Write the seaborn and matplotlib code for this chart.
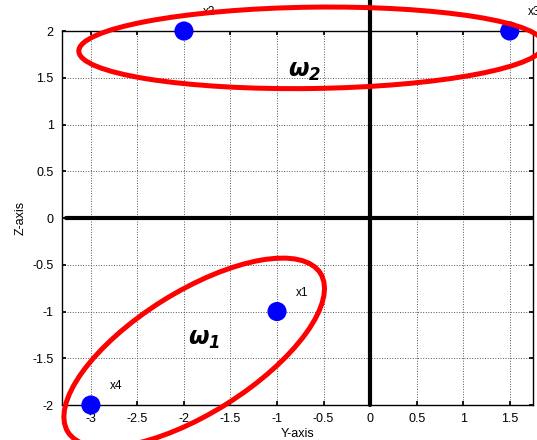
import seaborn as sns
import pandas as pd
import matplotlib.pyplot as plt
from matplotlib.patches import Ellipse

# sample points
point_names = ["x1", "x2", "x3", "x4"]
point_y = [-1, -2, 1.5, -3]
point_z = [-1, 2, 2, -2]

# class ellipses: center y, center z, width, height, angle
ell_labels = [r"$\mathbfit{\omega_1}$", r"$\mathbfit{\omega_2}$"]
ell_cy = [-1.89, -0.63]
ell_cz = [-1.44, 1.82]
ell_w = [3.2, 5.0]
ell_h = [1.3, 0.87]
ell_angle = [32, 0.8]
label_pos_y = [-1.78, -0.70]
label_pos_z = [-1.30, 1.56]

xticks = [-3, -2.5, -2, -1.5, -1, -0.5, 0, 0.5, 1, 1.5]
yticks = [-2, -1.5, -1, -0.5, 0, 0.5, 1, 1.5, 2]


def main():
    sns.set_theme(style="ticks")
    plt.rcParams["font.family"] = ["Liberation Sans", "DejaVu Sans"]
    plt.rcParams["text.color"] = "black"
    plt.rcParams["axes.labelcolor"] = "black"

    df = pd.DataFrame({"name": point_names, "Y": point_y, "Z": point_z})

    fig = plt.figure(figsize=(5.37, 4.4), dpi=100)
    ax = fig.add_axes([0.1155, 0.0795, 0.877, 0.85])

    ax.set_xlim(-3.31, 1.75)
    ax.set_ylim(-2, 2)
    ax.set_xticks(xticks)
    ax.set_yticks(yticks)
    ax.set_xticklabels([f"{t:g}" for t in xticks])
    ax.set_yticklabels([f"{t:g}" for t in yticks])
    ax.grid(True, linestyle=":", color="#555555", linewidth=0.7)
    ax.tick_params(direction="in", length=3, top=True, right=True,
                   labelsize=9, colors="black", pad=6)
    for s in ax.spines.values():
        s.set_linewidth(1.0)
        s.set_color("black")

    # thick axis lines
    ax.plot([0, 0], [-2, 2.4], color="black", lw=3, clip_on=False, zorder=3)
    ax.plot([-3.27, 1.75], [0, 0], color="black", lw=3, zorder=3)

    sns.scatterplot(data=df, x="Y", y="Z", color="#0000ff", s=190,
                    edgecolor="none", ax=ax, zorder=5, clip_on=False)
    for n, y, z in zip(point_names, point_y, point_z):
        ax.text(y + 0.2, z + 0.2, n, fontsize=8.5, va="center", ha="left",
                clip_on=False)

    for i in range(len(ell_labels)):
        e = Ellipse((ell_cy[i], ell_cz[i]), ell_w[i], ell_h[i], angle=ell_angle[i],
                    fill=False, edgecolor="#ff0000", lw=3.6, clip_on=False, zorder=6)
        ax.add_patch(e)
        ax.text(label_pos_y[i], label_pos_z[i], ell_labels[i], fontsize=17,
                ha="center", va="center", color="black")

    ax.set_xlabel("Y-axis", fontsize=9, labelpad=2)
    ax.set_ylabel("Z-axis", fontsize=9, labelpad=4)

    fig.savefig("out.png", dpi=100)


if __name__ == "__main__":
    main()
